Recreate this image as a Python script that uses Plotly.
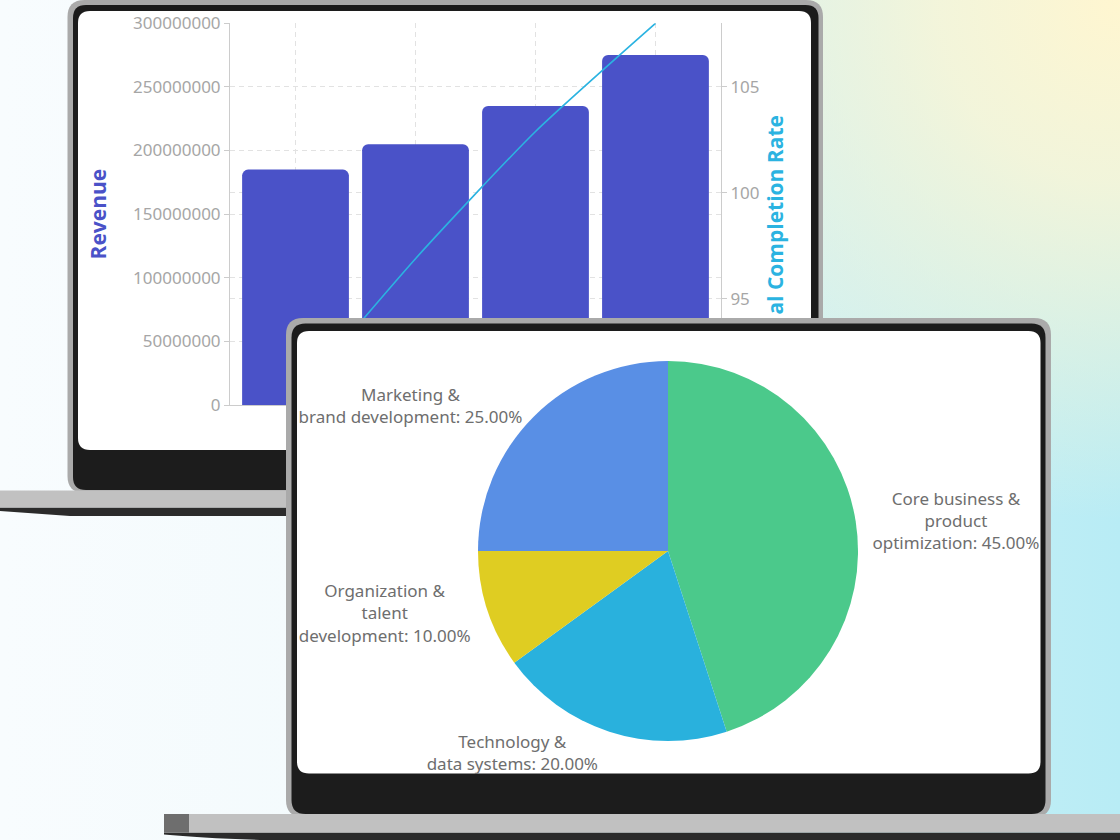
import base64
import plotly.graph_objects as go

W, H = 1120, 840

# ---------------- data ----------------
quarters = ["Q1", "Q2", "Q3", "Q4"]
revenue = [185000000, 205000000, 235000000, 275000000]
completion_rate = [90.3, 96.9, 102.9, 108.0]
revenue_ticks = [0, 50000000, 100000000, 150000000, 200000000, 250000000, 300000000]
rate_ticks = [90, 95, 100, 105]

budget_labels = [
    "Core business &<br>product<br>optimization",
    "Technology &<br>data systems",
    "Organization &<br>talent<br>development",
    "Marketing &<br>brand development",
]
budget_shares = [45, 20, 10, 25]
budget_colors = ["#4bc98b", "#29b1dd", "#dfcd22", "#598fe5"]

# ---------------- styles ----------------
BAR_COLOR = "#4a52c8"
LINE_COLOR = "#2bb3e1"
TICK_GRAY = "#a6a6a6"
LABEL_GRAY = "#6e6e6e"
GRID = "#e2e2e2"
FRAME = "#aaaaaa"
BEZEL = "#1c1c1c"
BASE = "#c1c1c1"
BASE_DARK = "#6e6e6e"
SHADOW = "#2b2b2b"
FONT = "Noto Sans"
TITLE_FONT = "Open Sans"


def rr_path(x0, y0, x1, y1, r, cx, cy):
    pts = [
        ("M", [(x0 + r, y0)]),
        ("L", [(x1 - r, y0)]),
        ("Q", [(x1, y0), (x1, y0 + r)]),
        ("L", [(x1, y1 - r)]),
        ("Q", [(x1, y1), (x1 - r, y1)]),
        ("L", [(x0 + r, y1)]),
        ("Q", [(x0, y1), (x0, y1 - r)]),
        ("L", [(x0, y0 + r)]),
        ("Q", [(x0, y0), (x0 + r, y0)]),
    ]
    s = ""
    for cmd, ps in pts:
        s += cmd + " ".join(f"{cx(x):.5f},{cy(y):.5f}" for x, y in ps) + " "
    return s + "Z"


def poly_path(points, cx, cy):
    s = "M" + " L".join(f"{cx(x):.5f},{cy(y):.5f}" for x, y in points)
    return s + " Z"


# paper conversions (pixels -> paper fraction)
px = lambda x: x / W
py = lambda y: 1 - y / H
# the x3/y3 overlay subplot uses pixel-like units directly
ix = lambda x: x
iy = lambda y: y

# ---------------- background gradient ----------------
svg = f"""<svg xmlns='http://www.w3.org/2000/svg' width='{W}' height='{H}' viewBox='0 0 {W} {H}' preserveAspectRatio='none'>
<defs>
<linearGradient id='a' x1='0' y1='0' x2='1' y2='0'>
<stop offset='0' stop-color='#f8fcfe'/>
<stop offset='0.45' stop-color='#f1fafc'/>
<stop offset='0.72' stop-color='#cdf0f5'/>
<stop offset='1' stop-color='#b8ecf5'/>
</linearGradient>
<radialGradient id='b' cx='{W}' cy='0' r='520' gradientUnits='userSpaceOnUse'>
<stop offset='0' stop-color='#fff6d0' stop-opacity='1'/>
<stop offset='0.35' stop-color='#fbf6d6' stop-opacity='0.85'/>
<stop offset='1' stop-color='#fff6d0' stop-opacity='0'/>
</radialGradient>
</defs>
<rect width='{W}' height='{H}' fill='url(#a)'/>
<rect width='{W}' height='{H}' fill='url(#b)'/>
</svg>"""
bg_src = "data:image/svg+xml;base64," + base64.b64encode(svg.encode()).decode()

# ---------------- shapes ----------------
shapes = []
# back laptop (below the bar chart)
shapes.append(dict(type="path", xref="paper", yref="paper", layer="below",
                   path=rr_path(67.5, 0, 823, 493, 17, px, py), fillcolor=FRAME, line_width=0))
shapes.append(dict(type="path", xref="paper", yref="paper", layer="below",
                   path=rr_path(73, 5, 818.5, 490, 13, px, py), fillcolor=BEZEL, line_width=0))
shapes.append(dict(type="path", xref="paper", yref="paper", layer="below",
                   path=rr_path(78, 11, 811, 450, 12, px, py), fillcolor="#ffffff", line_width=0))
shapes.append(dict(type="path", xref="paper", yref="paper", layer="below",
                   path=poly_path([(0, 507.5), (900, 507.5), (900, 516), (70, 516), (0, 511)], px, py),
                   fillcolor=SHADOW, line_width=0))
shapes.append(dict(type="rect", xref="paper", yref="paper", layer="below",
                   x0=0, x1=px(900), y0=py(507.5), y1=py(490.5), fillcolor=BASE, line_width=0))

# front laptop (above the bar chart, below the pie) -> drawn in the x3/y3 subplot
front = dict(xref="x3", yref="y3", layer="below", line_width=0)
shapes.append(dict(type="path", path=rr_path(286, 318, 1051, 817, 17, ix, iy), fillcolor=FRAME, **front))
shapes.append(dict(type="path", path=rr_path(291.5, 323.5, 1045.5, 814, 14, ix, iy), fillcolor=BEZEL, **front))
shapes.append(dict(type="path", path=rr_path(297, 331, 1040.5, 773.5, 12, ix, iy), fillcolor="#ffffff", **front))
shapes.append(dict(type="path",
                   path="M164,832.5 L1120,832.5 L1120,840 L260,840 Q200,838 164,834.5 Z",
                   fillcolor=SHADOW, **front))
shapes.append(dict(type="rect", x0=189, x1=1120, y0=814, y1=832.5, fillcolor=BASE, **front))
shapes.append(dict(type="rect", x0=164, x1=189, y0=814, y1=832.5, fillcolor=BASE_DARK, **front))

# ---------------- traces ----------------
fig = go.Figure()
fig.add_trace(go.Bar(
    x=quarters, y=revenue, name="Revenue",
    marker=dict(color=BAR_COLOR, cornerradius=6, line_width=0),
    width=0.89, xaxis="x", yaxis="y", showlegend=False,
))
fig.add_trace(go.Scatter(
    x=quarters, y=completion_rate, name="Completion Rate",
    mode="lines", line=dict(color=LINE_COLOR, width=1.6, shape="spline", smoothing=0.6),
    xaxis="x", yaxis="y2", showlegend=False, cliponaxis=True,
))
fig.add_trace(go.Pie(
    labels=budget_labels, values=budget_shares,
    marker=dict(colors=budget_colors, line=dict(width=0)),
    sort=False, direction="clockwise", rotation=0,
    textposition="outside", texttemplate="%{label}: %{percent:.2%}",
    outsidetextfont=dict(family=FONT, size=17, color=LABEL_GRAY),
    domain=dict(x=[478 / W, 858 / W], y=[1 - 741 / H, 1 - 361 / H]),
    showlegend=False, automargin=False,
))

dash = "5px,4px"
fig.update_layout(
    template="none",
    width=W, height=H, autosize=False,
    margin=dict(l=0, r=0, t=0, b=0, pad=0),
    paper_bgcolor="#ffffff", plot_bgcolor="rgba(0,0,0,0)",
    font=dict(family=FONT, size=17, color=TICK_GRAY),
    images=[dict(source=bg_src, xref="paper", yref="paper", x=0, y=1, sizex=1, sizey=1,
                 sizing="stretch", layer="below", xanchor="left", yanchor="top")],
    shapes=shapes,
    xaxis=dict(domain=[230 / W, 721 / W], anchor="y", type="category", automargin=False,
               range=[-0.546, 3.546], showgrid=True, gridcolor=GRID, griddash=dash, gridwidth=1,
               showline=True, linecolor="#cccccc", ticks="", zeroline=False,
               showticklabels=False),
    yaxis=dict(domain=[1 - 405 / H, 1 - 23.3 / H], anchor="x", range=[0, 300000000], automargin=False,
               tickvals=revenue_ticks, tickformat="d",
               showgrid=True, gridcolor=GRID, griddash=dash, gridwidth=1, zeroline=False,
               showline=True, linecolor="#cccccc", ticks="outside", ticklen=5, tickcolor="#cccccc",
               tickfont=dict(size=17, color=TICK_GRAY),
               title=dict(text="Revenue", standoff=20,
                          font=dict(family=TITLE_FONT, size=21, color=BAR_COLOR, weight="bold"))),
    yaxis2=dict(overlaying="y", side="right", anchor="x", range=[90, 108], automargin=False,
                tickvals=rate_ticks, showgrid=True, gridcolor=GRID, griddash=dash, gridwidth=1,
                zeroline=False,
                showline=True, linecolor="#cccccc", ticks="outside", ticklen=5, tickcolor="#cccccc",
                tickfont=dict(size=17, color=TICK_GRAY)),
    xaxis3=dict(domain=[0, 1], anchor="y3", range=[0, W], visible=False, fixedrange=True,
                automargin=False),
    yaxis3=dict(domain=[0, 1], anchor="x3", range=[H, 0], visible=False, fixedrange=True,
                automargin=False),
    annotations=[dict(
        text='<span style="color:rgba(0,0,0,0)">Annu</span>al Completion Rate',
        xref="paper", yref="paper", x=775 / W, y=1 - 114 / H,
        xanchor="center", yanchor="top", textangle=-90, showarrow=False,
        font=dict(family=TITLE_FONT, size=21, color=LINE_COLOR, weight="bold"),
    )],
)

fig.write_html(
    "out.html",
    config={"displayModeBar": False},
    post_script="document.body.style.margin='0';document.body.style.padding='0';"
                "document.documentElement.style.overflow='hidden';",
)
